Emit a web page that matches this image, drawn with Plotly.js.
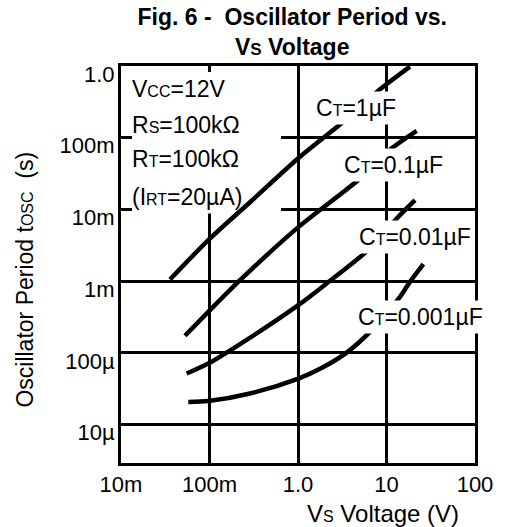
<!DOCTYPE html>
<html>
<head>
<meta charset="utf-8">
<script src="https://cdn.plot.ly/plotly-3.0.1.min.js"></script>
<style>html,body{margin:0;padding:0;background:#fff;}#chart{width:510px;height:527px;}</style>
</head>
<body>
<div id="chart"></div>
<script>
// ---- data ----
const xTickVals = [0.01, 0.1, 1, 10, 100];
const xTickText = ['10m', '100m', '1.0', '10', '100'];
const yTickVals = [1, 0.1, 0.01, 0.001, 0.0001, 0.00001];
const yTickText = ['1.0', '100m', '10m', '1m', '100\u00b5', '10\u00b5'];

const ct1uF_x = [0.0358, 0.0969, 0.287, 1.053, 3.25, 8.45, 18.4];
const ct1uF_y = [1.055e-3, 3.73e-3, 0.0126, 0.0542, 0.167, 0.473, 0.98];

const ct01uF_x = [0.0528, 0.0969, 0.2213, 1.008, 4.80, 11.45, 21.9];
const ct01uF_y = [1.73e-4, 3.73e-4, 1.03e-3, 5.67e-3, 0.0257, 0.0711, 0.125];

const ct001uF_x = [0.0552, 0.0969, 0.1564, 1.008, 2.30, 6.51, 13.6, 21.0];
const ct001uF_y = [5.15e-5, 7.1e-5, 1.01e-4, 4.62e-4, 1.01e-3, 2.86e-3, 7.89e-3, 0.01349];

const ct0001uF_x = [0.0576, 0.0969, 0.2869, 1.008, 1.867, 3.52, 6.80, 14.2, 18.4, 26.1];
const ct0001uF_y = [2.07e-5, 2.13e-5, 2.71e-5, 4.38e-5, 6.2e-5, 1.0e-4, 2.07e-4, 6.04e-4, 9.77e-4, 1.73e-3];

const seriesNames = ['CT=1\u00b5F', 'CT=0.1\u00b5F', 'CT=0.01\u00b5F', 'CT=0.001\u00b5F'];
const sm = (t) => '<span style="font-size:16px">' + t + '</span>';
const seriesLabels = [
  'C' + sm('T') + '=1\u00b5F',
  'C' + sm('T') + '=0.1\u00b5F',
  'C' + sm('T') + '=0.01\u00b5F',
  'C' + sm('T') + '=0.001\u00b5F'
];
const paramLines = [
  'V' + sm('CC') + '=12V',
  'R' + sm('S') + '=100k\u03a9',
  'R' + sm('T') + '=100k\u03a9',
  '(I' + sm('RT') + '=20\u00b5A)'
];

// ---- chart ----
const FONT = 'Liberation Sans, Arial, Helvetica, sans-serif';
const xs = [ct1uF_x, ct01uF_x, ct001uF_x, ct0001uF_x];
const ys = [ct1uF_y, ct01uF_y, ct001uF_y, ct0001uF_y];

const traces = xs.map((x, i) => ({
  type: 'scatter', mode: 'lines', x: x, y: ys[i], name: seriesNames[i],
  line: {color: '#000', width: 4.5, shape: 'spline', smoothing: 0.8},
  hoverinfo: 'skip', showlegend: false
}));

const labelPos = [[0.665, 0.894], [0.769, 0.7504], [0.830, 0.5697], [0.847, 0.368]];
const paramY = [0.942, 0.8513, 0.7656, 0.6698];

const annotations = [];
seriesLabels.forEach((t, i) => annotations.push({
  xref: 'paper', yref: 'paper', x: labelPos[i][0], y: labelPos[i][1],
  xanchor: 'center', yanchor: 'middle', text: t, showarrow: false,
  bgcolor: '#fff', borderpad: 3, font: {family: FONT, size: 23, color: '#000'}
}));
paramLines.forEach((t, i) => annotations.push({
  xref: 'paper', yref: 'paper', x: 0.026, y: paramY[i],
  xanchor: 'left', yanchor: 'middle', text: t, showarrow: false,
  font: {family: FONT, size: 23, color: '#000'}
}));
// axis titles placed as in the reference
annotations.push({
  xref: 'paper', yref: 'paper', x: 0.739, y: -0.126, xanchor: 'center', yanchor: 'middle',
  text: 'V' + sm('S') + ' Voltage (V)', showarrow: false,
  font: {family: FONT, size: 24, color: '#000'}
});
annotations.push({
  xref: 'paper', yref: 'paper', x: -0.270, y: 0.463, xanchor: 'center', yanchor: 'middle',
  textangle: -90, text: 'Oscillator Period t' + sm('OSC') + '\u00a0 (s)', showarrow: false,
  font: {family: FONT, size: 23, color: '#000'}
});

const axisCommon = {
  type: 'log', showgrid: true, gridcolor: '#000', gridwidth: 3,
  showline: true, linecolor: '#000', linewidth: 3, mirror: true,
  ticks: '', zeroline: false, fixedrange: true,
  tickfont: {family: FONT, size: 22, color: '#000'}
};

const layout = {
  width: 510, height: 527,
  margin: {l: 121, r: 35, t: 66, b: 64},
  paper_bgcolor: '#fff', plot_bgcolor: '#fff',
  font: {family: FONT, color: '#000'},
  title: {
    text: '<b>Fig. 6 -\u00a0 Oscillator Period vs.<br>V' + '<span style="font-size:17px">S</span>' + ' Voltage</b>',
    font: {family: FONT, size: 23, color: '#000'},
    xref: 'container', x: 0.573, xanchor: 'center',
    yref: 'container', y: 0.953, yanchor: 'top'
  },
  xaxis: Object.assign({}, axisCommon, {
    range: [-2, 2], tickmode: 'array', tickvals: xTickVals, ticktext: xTickText,
    ticklabelstandoff: 0
  }),
  yaxis: Object.assign({}, axisCommon, {
    range: [-5.536, 0], tickmode: 'array', tickvals: yTickVals, ticktext: yTickText,
    ticklabelshift: 8, ticklabelstandoff: -1
  }),
  // white panel behind the parameter text: hides the grid but not the curves
  shapes: [{
    type: 'rect', xref: 'x', yref: 'y', x0: 0.0133, x1: 0.6427, y0: 0.0088, y1: 0.825,
    fillcolor: '#fff', line: {width: 0}, layer: 'between'
  }],
  annotations: annotations,
  showlegend: false
};

Plotly.newPlot('chart', traces, layout, {displayModeBar: false, staticPlot: true});
</script>
</body>
</html>
